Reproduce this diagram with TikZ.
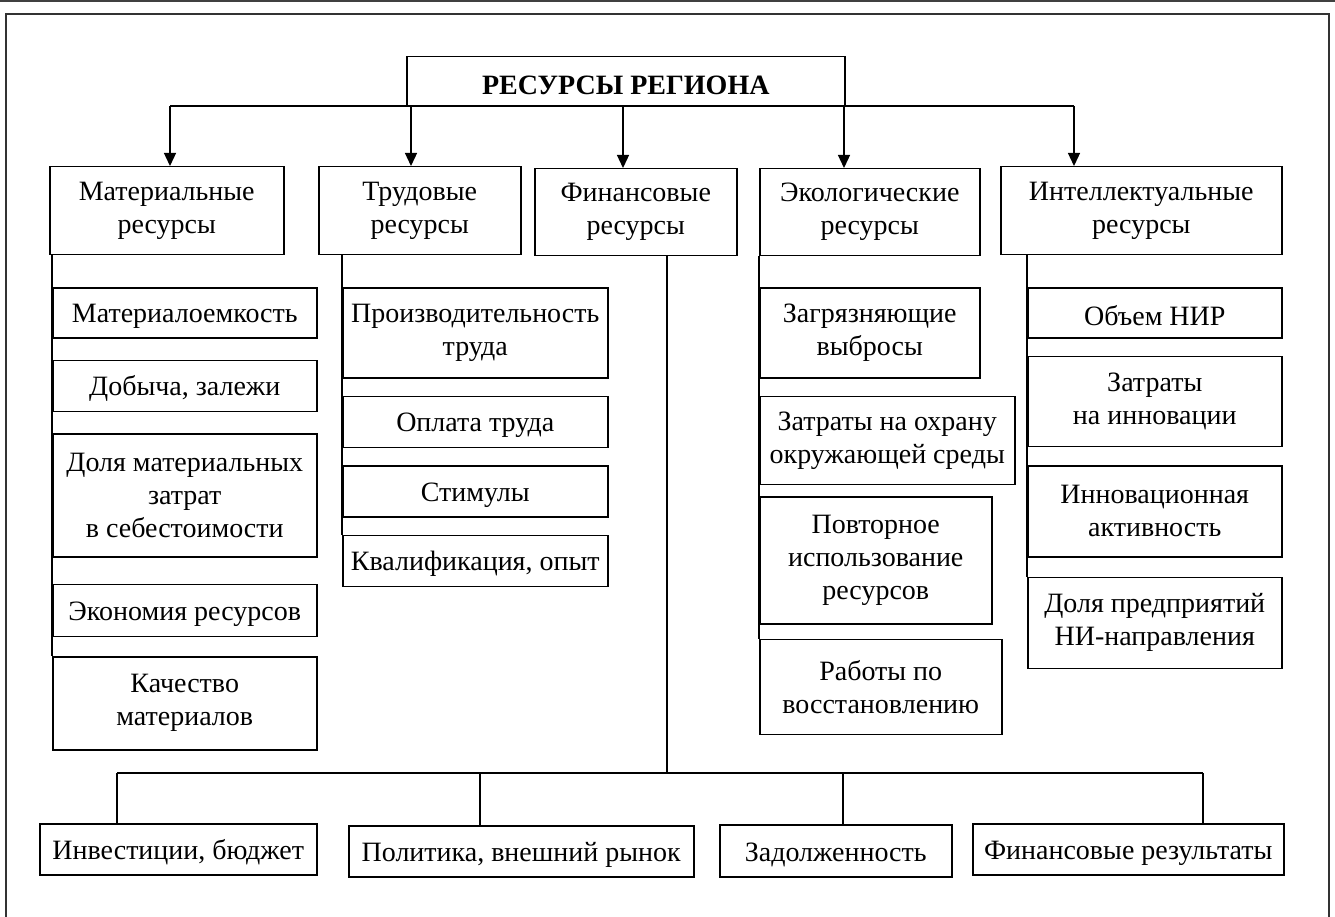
\documentclass[tikz,border=0pt]{standalone}
\usepackage{fontspec}
\setmainfont{Liberation Serif}
\usetikzlibrary{arrows.meta,positioning}
\tikzset{
  cell/.style={draw=black, line width=1.5pt, align=center, inner sep=0pt,
               anchor=north west, font=\fontsize{28}{33}\selectfont,
               execute at begin node={\rule{0pt}{26pt}}},
  wire/.style={line width=1.3pt},
  flow/.style={wire, -{Triangle[length=13pt,width=12pt]}},
}
\begin{document}
\begin{tikzpicture}[x=1pt, y=-1pt]
  \useasboundingbox (0,0) rectangle (1335,917);
  % frame
  \draw[line width=2pt, black!75] (0,1) -- (1335,1);
  \draw[line width=2pt, black!80] (6,917) -- (6,14) -- (1329,14) -- (1329,917);
  % root
  \node[cell, minimum width=438pt, minimum height=50pt,
        font=\fontsize{28}{33}\selectfont\bfseries] (r) at (406,56) {РЕСУРСЫ РЕГИОНА};
  % kinds of resources
  \node[cell, minimum width=234pt, minimum height=88pt] (c1) at (49,166) {Материальные\\ресурсы};
  \node[cell, minimum width=202pt, minimum height=88pt] (c2) at (318,166) {Трудовые\\ресурсы};
  \node[cell, minimum width=202pt, minimum height=87pt] (c3) at (534,168) {Финансовые\\ресурсы};
  \node[cell, minimum width=220pt, minimum height=87pt] (c4) at (759,168) {Экологические\\ресурсы};
  \node[cell, minimum width=281pt, minimum height=88pt] (c5) at (1000,166) {Интеллектуальные\\ресурсы};
  \coordinate (a1) at (170,106); \coordinate (a2) at (411,106);
  \coordinate (a3) at (623,106); \coordinate (a4) at (844,106);
  \coordinate (a5) at (1074,106);
  \draw[wire] (a1) -- (a5);
  \foreach \a/\c in {a1/c1,a2/c2,a3/c3,a4/c4,a5/c5}
    \draw[flow] (\a) -- (\a |- \c.north);
  % material
  \node[cell, minimum width=264pt, minimum height=50pt] (m1) at (52,287) {Материалоемкость};
  \node[cell, minimum width=264pt, minimum height=51pt, below right=21pt and 0pt of m1.south west] (m2) {Добыча, залежи};
  \node[cell, minimum width=264pt, minimum height=123pt, below right=21pt and 0pt of m2.south west] (m3) {Доля материальных\\затрат\\в себестоимости};
  \node[cell, minimum width=264pt, minimum height=52pt, below right=26pt and 0pt of m3.south west] (m4) {Экономия ресурсов};
  \node[cell, minimum width=264pt, minimum height=93pt, below right=19pt and 0pt of m4.south west] (m5) {Качество\\материалов};
  \draw[wire] (m1.north west |- c1.south) -- (m5.north west);
  % labour
  \node[cell, minimum width=265pt, minimum height=90pt] (t1) at (342,287) {Производительность\\труда};
  \node[cell, minimum width=265pt, minimum height=51pt, below right=17pt and 0pt of t1.south west] (t2) {Оплата труда};
  \node[cell, minimum width=265pt, minimum height=51pt, below right=17pt and 0pt of t2.south west] (t3) {Стимулы};
  \node[cell, minimum width=265pt, minimum height=51pt, below right=17pt and 0pt of t3.south west] (t4) {Квалификация, опыт};
  \draw[wire] (t1.north west |- c2.south) -- (t4.north west);
  % ecology
  \node[cell, minimum width=220pt, minimum height=90pt] (e1) at (759,287) {Загрязняющие\\выбросы};
  \node[cell, minimum width=255pt, minimum height=88pt, below right=17pt and 0pt of e1.south west] (e2) {Затраты на охрану\\окружающей среды};
  \node[cell, minimum width=232pt, minimum height=127pt, below right=11pt and 0pt of e2.south west] (e3) {Повторное\\использование\\ресурсов};
  \node[cell, minimum width=242pt, minimum height=95pt, below right=14pt and 0pt of e3.south west] (e4) {Работы по\\восстановлению};
  \draw[wire] (e1.north west |- c4.south) -- (e4.north west);
  % intellect
  \node[cell, minimum width=254pt, minimum height=50pt] (i1) at (1027,287) {Объем НИР};
  \node[cell, minimum width=254pt, minimum height=90pt, below right=17pt and 0pt of i1.south west] (i2) {Затраты\\на инновации};
  \node[cell, minimum width=254pt, minimum height=91pt, below right=18pt and 0pt of i2.south west] (i3) {Инновационная\\активность};
  \node[cell, minimum width=254pt, minimum height=91pt, below right=19pt and 0pt of i3.south west] (i4) {Доля предприятий\\НИ-направления};
  \draw[wire] (i1.north west |- c5.south) -- (i4.north west);
  % finance
  \node[cell, minimum width=277pt, minimum height=51pt] (f1) at (39,823) {Инвестиции, бюджет};
  \node[cell, minimum width=345pt, minimum height=51pt] (f2) at (348,825) {Политика, внешний рынок};
  \node[cell, minimum width=232pt, minimum height=52pt] (f3) at (719,824) {Задолженность};
  \node[cell, minimum width=311pt, minimum height=51pt] (f4) at (972,823) {Финансовые результаты};
  \coordinate (g0) at (667,773);
  \draw[wire] (g0 |- c3.south) -- (g0);
  \coordinate (d1) at (117,773); \coordinate (d2) at (480,773);
  \coordinate (d3) at (843,773); \coordinate (d4) at (1203,773);
  \draw[wire] (d1) -- (d4);
  \foreach \d/\f in {d1/f1,d2/f2,d3/f3,d4/f4}
    \draw[wire] (\d) -- (\d |- \f.north);
\end{tikzpicture}
\end{document}
